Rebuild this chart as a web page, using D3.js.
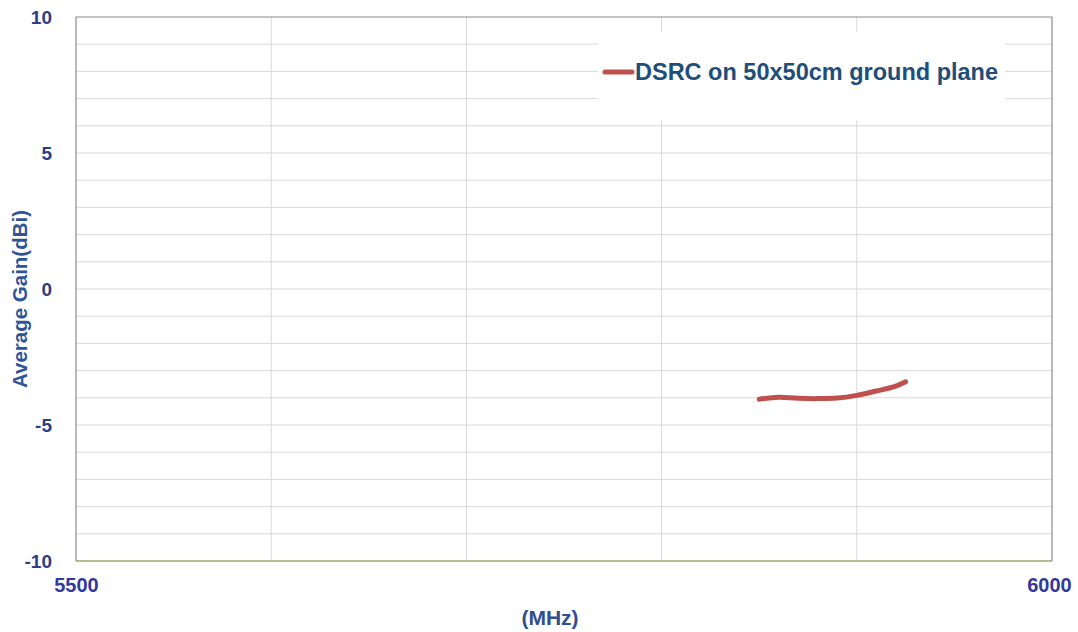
<!DOCTYPE html>
<html><head><meta charset="utf-8">
<script src="https://cdn.jsdelivr.net/npm/d3@7"></script>
<style>body{margin:0;background:#fff}svg{display:block}</style>
</head><body>
<svg id="c" width="1078" height="632"></svg>
<script>
const freq = [5850, 5860, 5870, 5880, 5890, 5900, 5910, 5920, 5925];
const gain = [-4.05, -3.98, -4.02, -4.03, -4.01, -3.91, -3.75, -3.57, -3.41];
const xTicks = [5500, 6000];
const yTicks = [-10, -5, 0, 5, 10];
const seriesName = "DSRC on 50x50cm ground plane";

const svg = d3.select("#c");
const L = 76, R = 1052, T = 17, B = 561;
const x = d3.scaleLinear().domain([5500, 6000]).range([L, R]);
const y = d3.scaleLinear().domain([-10, 10]).range([B, T]);
const labelColor = "#2c3e85";
const font = "Liberation Sans, Arial, sans-serif";

// grid
svg.append("g").selectAll("line").data(d3.range(-9, 10)).join("line")
  .attr("x1", L).attr("x2", R).attr("y1", d => y(d)).attr("y2", d => y(d))
  .attr("stroke", "#d9d9d9").attr("stroke-width", 1);
svg.append("g").selectAll("line").data(d3.range(5600, 6000, 100)).join("line")
  .attr("y1", T).attr("y2", B).attr("x1", d => x(d)).attr("x2", d => x(d))
  .attr("stroke", "#d9d9d9").attr("stroke-width", 1);

// border
svg.append("path").attr("d", `M${L},${B}V${T}H${R}V${B}`).attr("fill", "none")
  .attr("stroke", "#8c8c8c").attr("stroke-width", 1.2);
svg.append("line").attr("x1", L).attr("x2", R).attr("y1", B).attr("y2", B)
  .attr("stroke", "#9aa86a").attr("stroke-width", 1.5);

// axes labels
const yAxis = d3.axisLeft(y).tickValues(yTicks).tickSize(0).tickPadding(0).tickFormat(d => String(d));
const gy = svg.append("g").attr("transform", `translate(${L - 24},0)`).call(yAxis);
gy.select(".domain").remove();
gy.selectAll("text").attr("fill", labelColor).attr("font-family", font)
  .attr("font-weight", "bold").attr("font-size", 19);

const xAxis = d3.axisBottom(x).tickValues(xTicks).tickSize(0).tickPadding(0).tickFormat(d => String(d));
const gx = svg.append("g").attr("transform", `translate(0,${B + 17})`).call(xAxis);
gx.select(".domain").remove();
gx.selectAll("text").attr("fill", "#33399a").attr("font-family", font)
  .attr("font-weight", "bold").attr("font-size", 20);
gx.selectAll(".tick").filter(d => d === 6000).select("text").attr("dx", -3);

svg.append("text").attr("x", 550).attr("y", 625).attr("text-anchor", "middle")
  .attr("fill", "#2f4f8f").attr("font-family", font)
  .attr("font-weight", "bold").attr("font-size", 21).text("(MHz)");
svg.append("text").attr("transform", `translate(27,${y(0) + 10}) rotate(-90)`).attr("text-anchor", "middle")
  .attr("fill", "#2f5597").attr("font-family", font)
  .attr("font-weight", "bold").attr("font-size", 20.5).text("Average Gain(dBi)");

// legend
svg.append("rect").attr("x", 598).attr("y", 32).attr("width", 407).attr("height", 88).attr("fill", "#fff");
svg.append("line").attr("x1", 605).attr("x2", 632).attr("y1", 72).attr("y2", 72)
  .attr("stroke", "#c0504d").attr("stroke-width", 5).attr("stroke-linecap", "round");
svg.append("text").attr("x", 635).attr("y", 80).attr("fill", "#1f4e79")
  .attr("font-family", font).attr("font-weight", "bold")
  .attr("font-size", 23.5).text(seriesName);

// series
const line = d3.line().x((d, i) => x(freq[i])).y(d => y(d)).curve(d3.curveCatmullRom);
svg.append("path").datum(gain).attr("d", line).attr("fill", "none")
  .attr("stroke", "#c0504d").attr("stroke-width", 5).attr("stroke-linecap", "round");
</script>
</body></html>
